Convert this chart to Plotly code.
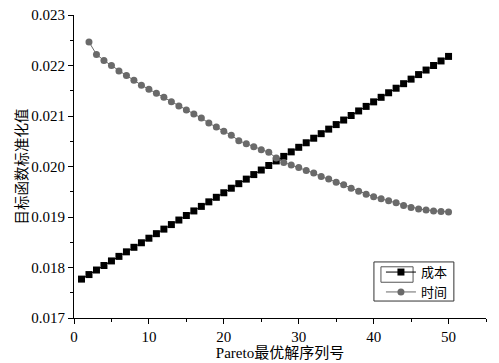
import plotly.graph_objects as go

cost_x = list(range(1, 51))
cost_y = [0.01777, 0.01786, 0.01795, 0.01804, 0.01813, 0.01822, 0.01831, 0.01840, 0.01849, 0.01858,
          0.01867, 0.01876, 0.01885, 0.01894, 0.01903, 0.01912, 0.01921, 0.01930, 0.01939, 0.01948,
          0.01957, 0.01966, 0.01975, 0.01984, 0.01993, 0.02002, 0.02011, 0.02020, 0.02029, 0.02038,
          0.02047, 0.02056, 0.02065, 0.02074, 0.02083, 0.02092, 0.02101, 0.02110, 0.02119, 0.02128,
          0.02137, 0.02146, 0.02155, 0.02164, 0.02173, 0.02182, 0.02191, 0.02200, 0.02209, 0.02218]

time_x = list(range(2, 51))
time_y = [0.022465, 0.02222, 0.02210, 0.02200, 0.02189, 0.02180, 0.02171, 0.02161, 0.02153,
          0.02145, 0.02137, 0.02128, 0.02120, 0.02112, 0.02104, 0.02096, 0.02086, 0.02078, 0.02070,
          0.02062, 0.02051, 0.02045, 0.02039, 0.02033, 0.02028, 0.02017, 0.02008, 0.02003, 0.01998,
          0.01992, 0.01987, 0.01980, 0.01975, 0.01969, 0.01964, 0.01957, 0.01951, 0.01945, 0.01940,
          0.01936, 0.01932, 0.01928, 0.01923, 0.01919, 0.01916, 0.01914, 0.01912, 0.01911, 0.01910]

x_ticks = [0, 10, 20, 30, 40, 50]
y_ticks = [0.017, 0.018, 0.019, 0.020, 0.021, 0.022, 0.023]
y_labels = ["0.017", "0.018", "0.019", "0.020", "0.021", "0.022", "0.023"]

num_font = "Liberation Serif"
cjk_font = "'Liberation Serif', 'Noto Sans CJK SC', serif"

fig = go.Figure()
fig.add_trace(go.Scatter(x=cost_x, y=cost_y, name="成本", mode="lines+markers",
                         line=dict(color="black", width=1),
                         marker=dict(symbol="square", size=7, color="black")))
fig.add_trace(go.Scatter(x=time_x, y=time_y, name="时间", mode="lines+markers",
                         line=dict(color="#6a6a6a", width=1),
                         marker=dict(symbol="circle", size=7, color="#6a6a6a")))

axis_common = dict(showline=True, linecolor="black", linewidth=1, ticks="outside",
                   ticklen=5, tickwidth=1, tickcolor="black", showgrid=False, zeroline=False,
                   tickfont=dict(family=num_font, size=15, color="black"), mirror=False,
                   automargin=False, ticklabeloverflow="allow")

fig.update_xaxes(range=[0, 55], tickvals=x_ticks, ticktext=[str(v) for v in x_ticks],
                 minor=dict(ticks="outside", dtick=5, tick0=0, ticklen=3, tickcolor="black"),
                 title=dict(text="Pareto最优解序列号", font=dict(family=cjk_font, size=15, color="black"), standoff=0),
                 **axis_common)
fig.update_yaxes(range=[0.017, 0.023], tickvals=y_ticks, ticktext=y_labels,
                 minor=dict(ticks="outside", dtick=0.0005, tick0=0.017, ticklen=3, tickcolor="black"),
                 title=dict(text="目标函数标准化值", font=dict(family=cjk_font, size=14.5, color="black"), standoff=0),
                 **axis_common)

# legend frame and inner frame around first entry
fig.add_shape(type="rect", xref="paper", yref="paper", x0=0.728, x1=0.922, y0=0.056, y1=0.185,
              line=dict(color="#333", width=1), fillcolor="white", layer="above")
fig.add_shape(type="rect", xref="paper", yref="paper", x0=0.745, x1=0.823, y0=0.118, y1=0.169,
              line=dict(color="#555", width=1), fillcolor="rgba(0,0,0,0)", layer="above")

fig.update_layout(width=499, height=363, margin=dict(l=66, r=21, t=7, b=53),
                  plot_bgcolor="white", paper_bgcolor="white",
                  font=dict(family=cjk_font, size=14, color="black"),
                  legend=dict(x=0.745, y=0.201, xanchor="left", yanchor="top",
                              borderwidth=0, bgcolor="rgba(0,0,0,0)",
                              font=dict(family=cjk_font, size=13, color="black"),
                              tracegroupgap=0, itemwidth=30))
fig.write_html("out.html")
